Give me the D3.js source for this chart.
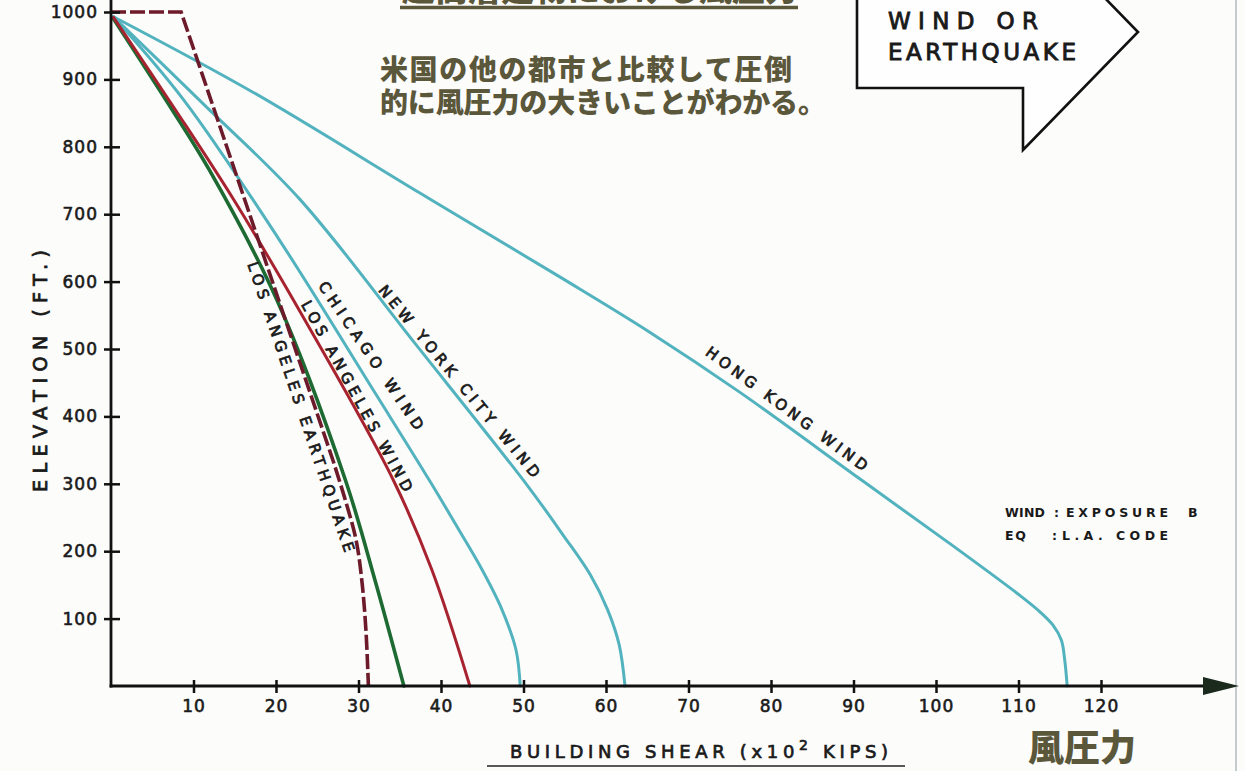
<!DOCTYPE html>
<html><head><meta charset="utf-8">
<script src="https://cdn.jsdelivr.net/npm/d3@7"></script>
<style>html,body{margin:0;padding:0;background:#fcfcfb;} svg{display:block}</style>
</head><body>
<svg id="chart" width="1245" height="771"></svg>
<script>
// ---------------- data ----------------
const xTickValues = [10,20,30,40,50,60,70,80,90,100,110,120];
const yTickValues = [100,200,300,400,500,600,700,800,900,1000];

const hongKongShear = [0.3,17.2,37.5,54.4,65.3,76.2,90.8,101.6,110.1,112.6,114.2,115.2,115.6,115.9];
const hongKongElev  = [993,881,731,607,525,436,307,212,135,110,90,68,39,0];

const newYorkShear = [0.3,11.4,22.9,36.8,50.5,54.8,58.1,60.2,61.6,62.3];
const newYorkElev  = [993,861,722,509,297,224,165,113,61,0];

const chicagoShear = [0.3,8.85,20.4,32.0,38.7,42.2,45.0,47.4,49.1,49.6];
const chicagoElev  = [993,869,662,435,303,231,172,113,53,0];

const laWindShear = [0.3,7.8,14.9,23.5,34.2,38.9,43.5];
const laWindElev  = [992,855,721,543,306,172,0];

const greenShear = [0.3,6.1,11.9,20.1,28.4,32.0,35.5];
const greenElev  = [990,880,766,573,306,157,0];

const laQuakeShear = [0,8.5,26.9,28.4,29.7,30.4,30.9,31.2];
const laQuakeElev  = [1000,1000,335,276,217,157,83,0];

const lineLabels = ["LOS ANGELES EARTHQUAKE","LOS ANGELES WIND","CHICAGO WIND","NEW YORK CITY WIND","HONG KONG WIND"];
const labelShear = [23.0,29.8,31.5,42.2,81.9];
const labelElev  = [414,430,490,452,411];

// ---------------- layout ----------------
const svg = d3.select("#chart");
const x = d3.scaleLinear().domain([0,120]).range([111,1101]);
const y = d3.scaleLinear().domain([0,1000]).range([686,12]);
const FONT = "'DejaVu Sans', sans-serif";
const JP = "'Noto Sans CJK JP', sans-serif";
const OLIVE = "#5b573b";
const CYAN = "#52b3be";
const INK = "#1a1a1a";

svg.append("rect").attr("width",1245).attr("height",771).attr("fill","#fcfcfb");
svg.append("line").attr("x1",1236).attr("x2",1236).attr("y1",0).attr("y2",771)
  .attr("stroke","#c3cbce").attr("stroke-width",2);

// ---------------- curves ----------------
const zip = (a,b)=>a.map((v,i)=>[v,b[i]]);
const smooth = d3.line().x(d=>x(d[0])).y(d=>y(d[1])).curve(d3.curveCatmullRom.alpha(0.5));
const straight = d3.line().x(d=>x(d[0])).y(d=>y(d[1]));
const series = [
  {pts: zip(hongKongShear,hongKongElev), color: CYAN, w: 3},
  {pts: zip(newYorkShear,newYorkElev), color: CYAN, w: 3},
  {pts: zip(chicagoShear,chicagoElev), color: CYAN, w: 3},
  {pts: zip(greenShear,greenElev), color: "#1d6a32", w: 3.6},
  {pts: zip(laWindShear,laWindElev), color: "#a82330", w: 3},
];
const cg = svg.append("g");
series.forEach(s=>{
  cg.append("path").attr("d",smooth(s.pts)).attr("fill","none")
    .attr("stroke",s.color).attr("stroke-width",s.w).attr("stroke-linecap","round").attr("stroke-linejoin","round");
});
const qPts = zip(laQuakeShear,laQuakeElev);
cg.append("path").attr("d", straight(qPts.slice(0,3)) + smooth(qPts.slice(2)).replace(/^M[^CL]*/,""))
  .attr("fill","none").attr("stroke","#6d1a2a").attr("stroke-width",3.6)
  .attr("stroke-dasharray","15,4");

// ---------------- axes ----------------
const yAxis = d3.axisLeft(y).tickValues(yTickValues).tickSize(0).tickPadding(13).tickFormat(d3.format("d"));
const gy = svg.append("g").attr("transform",`translate(${x(0)},0)`).call(yAxis);
gy.select(".domain").remove();
gy.selectAll(".tick").append("line").attr("x1",-7).attr("x2",9).attr("stroke","#111").attr("stroke-width",2.5);
gy.selectAll("text").attr("font-family",FONT).attr("font-size",17).attr("fill",INK)
  .attr("letter-spacing",1).attr("stroke",INK).attr("stroke-width",0.6);

const xAxis = d3.axisBottom(x).tickValues(xTickValues).tickSize(0).tickPadding(14).tickFormat(d3.format("d"));
const gx = svg.append("g").attr("transform",`translate(0,${y(0)})`).call(xAxis);
gx.select(".domain").remove();
gx.selectAll(".tick").append("line").attr("y1",-6).attr("y2",7).attr("stroke","#111").attr("stroke-width",2.5);
gx.selectAll("text").attr("font-family",FONT).attr("font-size",17).attr("fill",INK)
  .attr("letter-spacing",1).attr("stroke",INK).attr("stroke-width",0.6);

svg.append("line").attr("x1",x(0)).attr("x2",x(0)).attr("y1",-2).attr("y2",y(0)+1.5)
  .attr("stroke","#111").attr("stroke-width",2.8);
svg.append("line").attr("x1",x(0)-1.4).attr("x2",1210).attr("y1",y(0)).attr("y2",y(0))
  .attr("stroke","#111").attr("stroke-width",2.8);
svg.append("polygon").attr("points",`1203,${y(0)-9} 1239,${y(0)} 1203,${y(0)+9}`).attr("fill","#1b2a1d");

// axis titles
svg.append("text").attr("transform","translate(47,371) rotate(-90)").attr("text-anchor","middle")
  .attr("font-family",FONT).attr("font-size",19).attr("fill",INK).attr("stroke",INK).attr("stroke-width",0.8)
  .attr("textLength",242).attr("lengthAdjust","spacing").text("ELEVATION  (FT.)");

const xt = svg.append("text").attr("x",510).attr("y",758).attr("font-family",FONT).attr("font-size",18)
  .attr("fill",INK).attr("stroke",INK).attr("stroke-width",0.7);
xt.append("tspan").text("BUILDING  SHEAR  (x10");
xt.append("tspan").attr("dy",-8).attr("font-size",14).text("2");
xt.append("tspan").attr("dy",8).text("  KIPS)");
xt.attr("textLength",378).attr("lengthAdjust","spacing");
svg.append("line").attr("x1",487).attr("x2",905).attr("y1",766).attr("y2",766).attr("stroke","#222").attr("stroke-width",1.5);

// ---------------- line labels ----------------
const labelAngle = [71.4,61.3,55.9,50.5,36.6];
const labelLen = [305,215,175,244,197];
lineLabels.forEach((t,i)=>{
  svg.append("text")
    .attr("transform",`translate(${x(labelShear[i])},${y(labelElev[i])}) rotate(${labelAngle[i]})`)
    .attr("text-anchor","middle").attr("dominant-baseline","central")
    .attr("font-family",FONT).attr("font-size",15).attr("fill",INK).attr("stroke",INK).attr("stroke-width",0.75)
    .attr("textLength",labelLen[i]).attr("lengthAdjust","spacing").text(t);
});

// legend note
const note = svg.append("g").attr("font-family",FONT).attr("font-size",12.5).attr("font-weight","bold").attr("fill",INK);
const noteRows = [
  [["WIND",1005,40],[":",1054,0],["EXPOSURE",1066,102],["B",1188,0]],
  [["EQ",1005,21],[":",1052,0],["L.A. CODE",1062,106]]
];
noteRows.forEach((row,ri)=>row.forEach(([t,xx,len])=>{
  const te = note.append("text").attr("x",xx).attr("y",ri?540:517).text(t);
  if(len) te.attr("textLength",len).attr("lengthAdjust","spacing");
}));

// ---------------- arrow box ----------------
svg.append("path").attr("d","M857,-30 L857,88 L1023,88 L1023,150 L1138,32 L1023,-86 L1023,-30 Z")
  .attr("fill","#fefefe").attr("stroke","#111").attr("stroke-width",2.6).attr("stroke-linejoin","miter");
svg.append("text").attr("x",888).attr("y",29).attr("font-family",FONT).attr("font-size",23)
  .attr("fill",INK).attr("stroke",INK).attr("stroke-width",0.9)
  .attr("textLength",150).attr("lengthAdjust","spacing").text("WIND  OR");
svg.append("text").attr("x",888).attr("y",60).attr("font-family",FONT).attr("font-size",23)
  .attr("fill",INK).attr("stroke",INK).attr("stroke-width",0.9)
  .attr("textLength",188).attr("lengthAdjust","spacing").text("EARTHQUAKE");

// ---------------- Japanese annotations ----------------
svg.append("text").attr("x",600).attr("y",1).attr("text-anchor","middle").attr("font-family",JP)
  .attr("font-size",33).attr("font-weight",900).attr("fill",OLIVE).text("超高層建物における風圧力");
svg.append("line").attr("x1",400).attr("x2",798).attr("y1",7.5).attr("y2",7.5).attr("stroke",OLIVE).attr("stroke-width",3.5);

svg.append("text").attr("x",380).attr("y",80).attr("font-family",JP).attr("font-size",28).attr("font-weight",900)
  .attr("fill",OLIVE).attr("textLength",412).attr("lengthAdjust","spacing").text("米国の他の都市と比較して圧倒");
svg.append("text").attr("x",380).attr("y",113).attr("font-family",JP).attr("font-size",28).attr("font-weight",900)
  .attr("fill",OLIVE).attr("textLength",446).attr("lengthAdjust","spacing").text("的に風圧力の大きいことがわかる。");

svg.append("text").attr("x",1028).attr("y",761).attr("font-family",JP).attr("font-size",36).attr("font-weight",900)
  .attr("fill",OLIVE).text("風圧力");
</script>
</body></html>
